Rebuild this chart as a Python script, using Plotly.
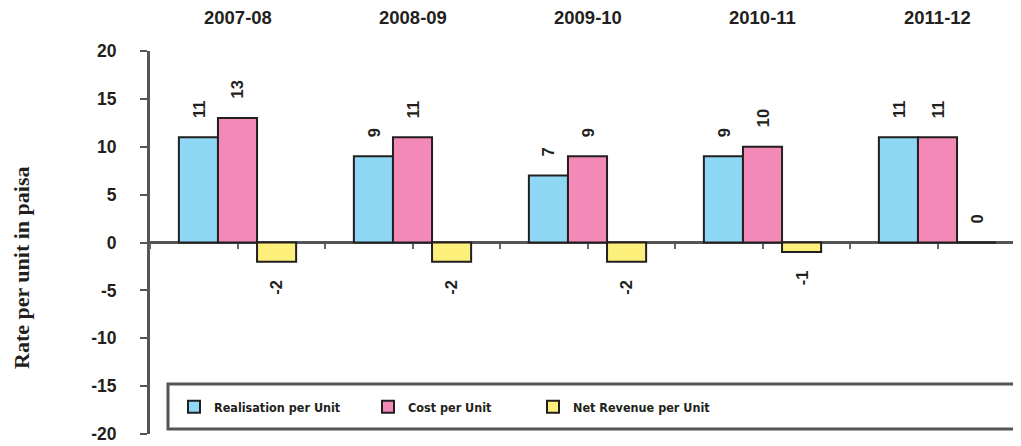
import plotly.graph_objects as go

categories = ["2007-08", "2008-09", "2009-10", "2010-11", "2011-12"]
realisation = [11, 9, 7, 9, 11]
cost = [13, 11, 9, 10, 11]
net_revenue = [-2, -2, -2, -1, 0]
series_names = ["Realisation per Unit", "Cost per Unit", "Net Revenue per Unit"]
y_ticks = [-20, -15, -10, -5, 0, 5, 10, 15, 20]

colors = ["#8ed8f5", "#f289b6", "#fcf07a"]
series = [realisation, cost, net_revenue]

OFF = 8  # page body margin
W, H = 1021, 446
PL, PR, PT, PB = 150, 1021, 51, 434   # plot area in window pixels
L = PL - OFF
T = PT - OFF
R = W - (PR - OFF)
B = H - (PB - OFF)
plot_w = PR - PL
plot_h = PB - PT
cat_px = 175.0
x_end = -0.5 + plot_w / cat_px
bargap = 0.33
bar_px = cat_px * (1 - bargap) / 3


def px_x(px):
    return (px - PL) / plot_w


def px_y(py):
    return (PB - py) / plot_h


fig = go.Figure()
legends = ["legend", "legend2", "legend3"]
for i, (name, vals, col) in enumerate(zip(series_names, series, colors)):
    fig.add_trace(go.Bar(
        x=categories, y=vals, name=name,
        marker=dict(color=col, line=dict(color="#231f20", width=2)),
        legend=legends[i], hoverinfo="skip",
    ))

# helper trace for the tick axis sitting on the zero line
fig.add_trace(go.Scatter(x=[-0.5], y=[0], xaxis="x2", mode="markers",
                         marker=dict(opacity=0), showlegend=False, hoverinfo="skip"))

ann = []
val_font = dict(family="Liberation Sans, Arial, sans-serif", size=16.5, color="#231f20", weight="bold")
for i, vals in enumerate(series):
    for c, v in zip(categories, vals):
        pos = v >= 0
        ann.append(dict(
            x=c, y=v, xref="x", yref="y", text=str(v), showarrow=False,
            textangle=-90, font=val_font,
            xshift=(i - 1) * bar_px,
            yanchor="bottom" if pos else "top",
            yshift=17 if pos else -16,
        ))
for c in categories:
    ann.append(dict(x=c, y=px_y(17), xref="x", yref="paper", text=c,
                    showarrow=False, yanchor="middle",
                    font=dict(family="Liberation Sans, Arial, sans-serif", size=18.5,
                              color="#231f20", weight="bold")))
ann.append(dict(x=px_x(21), y=px_y(268), xref="paper", yref="paper",
                text="Rate per unit in paisa", showarrow=False, textangle=-90,
                xanchor="center", yanchor="middle",
                font=dict(family="Liberation Serif, Times New Roman, serif", size=22,
                          color="#231f20", weight="bold")))

leg_font = dict(family="DejaVu Sans Condensed, Liberation Sans Narrow, Arial Narrow, sans-serif",
                size=12.5, color="#231f20", weight="bold")
leg_common = dict(orientation="h", yanchor="middle", y=px_y(407), xanchor="left",
                  bgcolor="rgba(0,0,0,0)", borderwidth=0, font=leg_font)
swatch_centers = [194, 388, 553]

layout_legends = {}
for lg, sc in zip(legends, swatch_centers):
    layout_legends[lg] = dict(leg_common, x=px_x(sc - 20))

fig.update_layout(
    width=W, height=H,
    margin=dict(l=L, r=R, t=T, b=B),
    paper_bgcolor="white", plot_bgcolor="white",
    barmode="group", bargap=bargap, bargroupgap=0,
    xaxis=dict(type="category", range=[-0.5, x_end], showticklabels=False, ticks="",
               showline=False, showgrid=False, zeroline=False),
    xaxis2=dict(overlaying="x", anchor="free", position=0.5, range=[-0.5, x_end],
                tickmode="array", tickvals=[k * 0.5 - 0.5 for k in range(11)],
                ticks="outside", ticklen=5, tickwidth=1.5, tickcolor="#666",
                showticklabels=False, showgrid=False, zeroline=False, showline=False),
    yaxis=dict(range=[-20, 20], tickmode="array", tickvals=y_ticks,
               ticktext=[str(v) for v in y_ticks],
               ticks="outside", ticklen=7, tickwidth=2, tickcolor="#555",
               showline=True, linecolor="#555", linewidth=3,
               showgrid=False, zeroline=True, zerolinecolor="#555", zerolinewidth=3,
               ticklabelstandoff=20,
               tickfont=dict(family="Liberation Sans, Arial, sans-serif", size=17.5,
                             color="#231f20", weight="bold")),
    annotations=ann,
    shapes=[dict(type="rect", xref="paper", yref="paper",
                 x0=px_x(168), x1=1.05,
                 y0=px_y(429), y1=px_y(384),
                 line=dict(color="#555", width=3), fillcolor="rgba(0,0,0,0)", layer="below")],
    **layout_legends,
)

fig.write_html("out.html")
